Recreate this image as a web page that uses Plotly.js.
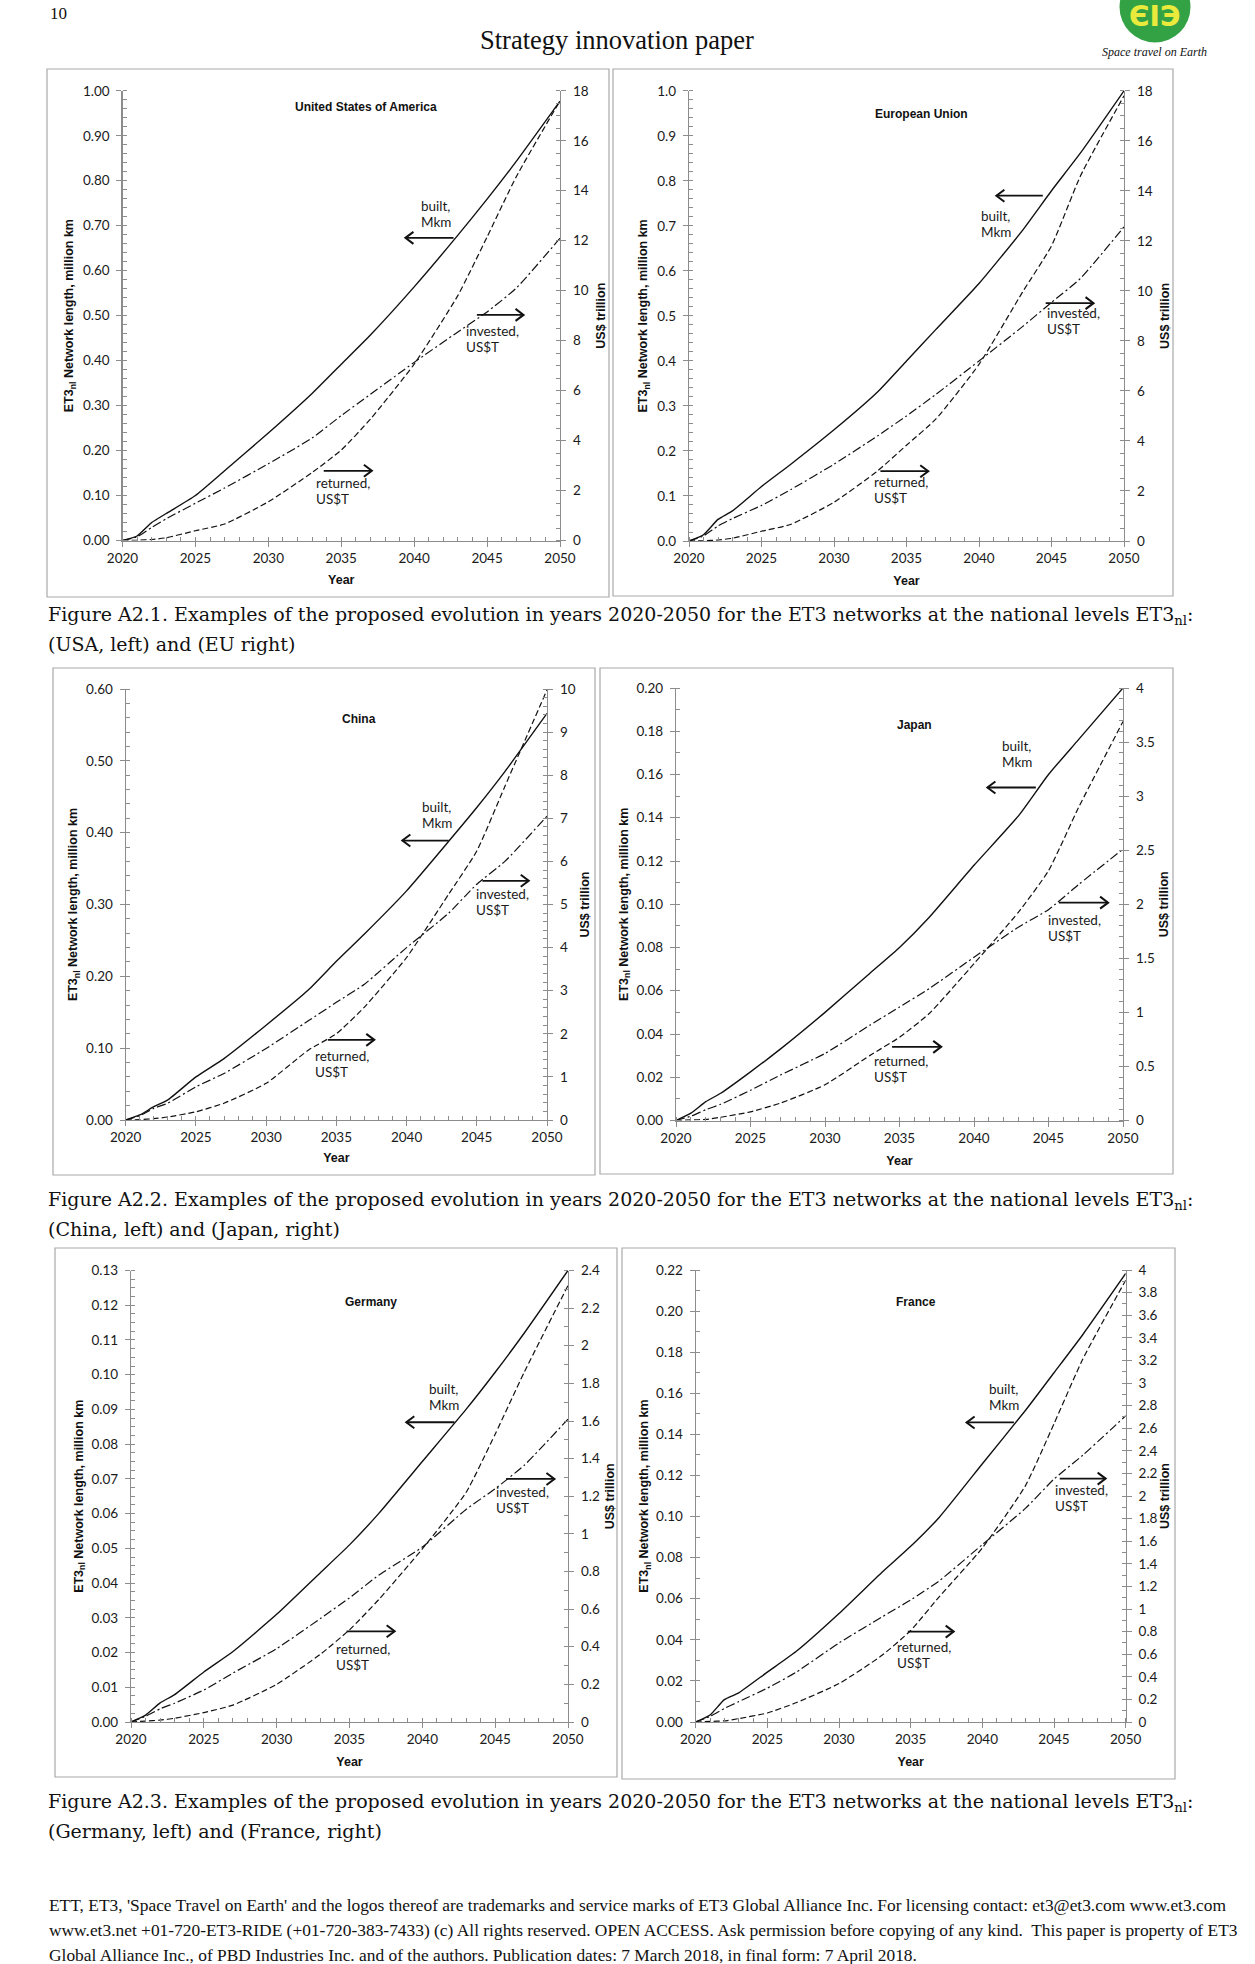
<!DOCTYPE html>
<html>
<head>
<meta charset="utf-8">
<script src="https://cdn.plot.ly/plotly-3.0.1.min.js"></script>
<style>
  html, body { margin: 0; padding: 0; background: #fff; }
  #page { width: 1255px; height: 1964px; }
</style>
</head>
<body>
<div id="page"></div>
<script>
// ---------------- DATA ----------------
const YEARS = [2020, 2021, 2022, 2023, 2025, 2027, 2030, 2033, 2035, 2037, 2040, 2043, 2045, 2047, 2050];
const X_TICKS = [2020, 2025, 2030, 2035, 2040, 2045, 2050];

const USA_BUILT    = [0, 0.01, 0.04, 0.06, 0.10, 0.155, 0.239, 0.327, 0.392, 0.457, 0.564, 0.679, 0.759, 0.843, 0.977];
const USA_INVESTED = [0, 0.15, 0.52, 0.87, 1.49, 2.1, 3.07, 4.1, 5.0, 5.85, 7.13, 8.35, 9.15, 10.1, 12.1];
const USA_RETURNED = [0, 0.01, 0.04, 0.11, 0.39, 0.66, 1.55, 2.72, 3.62, 4.86, 7.06, 9.81, 12.15, 14.56, 17.6];

const EU_BUILT    = [0, 0.014, 0.048, 0.067, 0.121, 0.17, 0.247, 0.331, 0.40, 0.469, 0.572, 0.69, 0.778, 0.862, 1.0];
const EU_INVESTED = [0, 0.2, 0.6, 0.9, 1.42, 2.05, 3.07, 4.2, 5.0, 5.85, 7.2, 8.57, 9.54, 10.5, 12.56];
const EU_RETURNED = [0, 0.01, 0.04, 0.11, 0.39, 0.66, 1.55, 2.8, 3.83, 4.86, 7.06, 9.95, 11.8, 14.6, 17.8];

const CHINA_BUILT    = [0, 0.007, 0.0185, 0.028, 0.06, 0.0855, 0.132, 0.181, 0.221, 0.259, 0.319, 0.388, 0.435, 0.485, 0.566];
const CHINA_INVESTED = [0, 0.1, 0.27, 0.39, 0.77, 1.08, 1.66, 2.3, 2.73, 3.15, 4.0, 4.8, 5.47, 6.0, 7.05];
const CHINA_RETURNED = [0, 0.01, 0.03, 0.07, 0.19, 0.39, 0.85, 1.62, 2.0, 2.62, 3.77, 5.24, 6.24, 7.74, 9.98];

const JAPAN_BUILT    = [0, 0.0034, 0.0087, 0.0126, 0.0225, 0.033, 0.050, 0.068, 0.080, 0.094, 0.118, 0.141, 0.16, 0.176, 0.20];
const JAPAN_INVESTED = [0, 0.04, 0.1, 0.15, 0.28, 0.42, 0.62, 0.88, 1.05, 1.22, 1.51, 1.79, 1.95, 2.18, 2.51];
const JAPAN_RETURNED = [0, 0.005, 0.01, 0.03, 0.08, 0.16, 0.33, 0.6, 0.77, 0.99, 1.45, 1.93, 2.31, 2.89, 3.69];

const GERMANY_BUILT    = [0, 0.002, 0.0055, 0.0079, 0.0144, 0.0203, 0.031, 0.043, 0.051, 0.0600, 0.075, 0.0900, 0.1007, 0.112, 0.13];
const GERMANY_INVESTED = [0, 0.03, 0.07, 0.1, 0.17, 0.26, 0.39, 0.55, 0.66, 0.78, 0.93, 1.13, 1.24, 1.365, 1.61];
const GERMANY_RETURNED = [0, 0.005, 0.01, 0.02, 0.05, 0.09, 0.2, 0.36, 0.49, 0.65, 0.92, 1.22, 1.53, 1.86, 2.32];

const FRANCE_BUILT    = [0, 0.0034, 0.0109, 0.0142, 0.0243, 0.0343, 0.0528, 0.0729, 0.0855, 0.0997, 0.1257, 0.1516, 0.170, 0.1885, 0.2183];
const FRANCE_INVESTED = [0, 0.05, 0.12, 0.18, 0.30, 0.44, 0.70, 0.93, 1.08, 1.25, 1.57, 1.89, 2.15, 2.36, 2.71];
const FRANCE_RETURNED = [0, 0.005, 0.01, 0.03, 0.08, 0.17, 0.34, 0.59, 0.81, 1.11, 1.54, 2.09, 2.64, 3.21, 3.91];

const CHART_TITLES = ['United States of America', 'European Union', 'China', 'Japan', 'Germany', 'France'];
const LEFT_TITLE = 'ET3<sub>nl</sub> Network length, million km';
const RIGHT_TITLE = 'US$ trillion';
const X_TITLE = 'Year';
const LBL_BUILT = ['built,', 'Mkm'];
const LBL_INVESTED = ['invested,', 'US$T'];
const LBL_RETURNED = ['returned,', 'US$T'];

const PAGE_NUMBER = '10';
const HEADER = 'Strategy innovation paper';
const LOGO_TEXT = 'ЄIЭ';
const LOGO_TAG = 'Space travel on Earth';
const CAPTIONS = [
  ['Figure A2.1. Examples of the proposed evolution in years 2020-2050 for the ET3 networks at the national levels ET3<sub>nl</sub>:', '(USA, left) and (EU right)'],
  ['Figure A2.2. Examples of the proposed evolution in years 2020-2050 for the ET3 networks at the national levels ET3<sub>nl</sub>:', '(China, left) and (Japan, right)'],
  ['Figure A2.3. Examples of the proposed evolution in years 2020-2050 for the ET3 networks at the national levels ET3<sub>nl</sub>:', '(Germany, left) and (France, right)']
];
const FOOTER = [
  "ETT, ET3, 'Space Travel on Earth' and the logos thereof are trademarks and service marks of ET3 Global Alliance Inc. For licensing contact: et3@et3.com www.et3.com",
  "www.et3.net +01-720-ET3-RIDE (+01-720-383-7433) (c) All rights reserved. OPEN ACCESS. Ask permission before copying of any kind.  This paper is property of ET3",
  "Global Alliance Inc., of PBD Industries Inc. and of the authors. Publication dates: 7 March 2018, in final form: 7 April 2018."
];

// ---------------- LAYOUT CONFIG (positions in page pixels) ----------------
const W = 1255, H = 1964;
const px = v => v / W;
const py = v => 1 - v / H;

const SERIES = [
  [USA_BUILT, USA_INVESTED, USA_RETURNED],
  [EU_BUILT, EU_INVESTED, EU_RETURNED],
  [CHINA_BUILT, CHINA_INVESTED, CHINA_RETURNED],
  [JAPAN_BUILT, JAPAN_INVESTED, JAPAN_RETURNED],
  [GERMANY_BUILT, GERMANY_INVESTED, GERMANY_RETURNED],
  [FRANCE_BUILT, FRANCE_INVESTED, FRANCE_RETURNED]
];

// standoffs: [x title, left title, right title]
const CFG = [
  { box:[47,69,609,597], plot:[122.5,90.8,560,540.5], title:[366,107], so:[10,6,8],
    lmax:1, ld:0.1, lfmt:'.2f', lminor:0.02, rmax:18, rd:2, rminor:0.5,
    arrows:{b:[2042.7,2039.4,0.673], i:[2044.3,2047.5,9.03], r:[2033.8,2037.1,2.79]},
    labels:{b:[2040.4,0.727], i:[2043.5,8.05], r:[2033.2,2.0]} },
  { box:[613,69,1173,596], plot:[689,90.8,1124,541], title:[922,114], so:[10,6,8],
    lmax:1, ld:0.1, lfmt:'.1f', lminor:0.02, rmax:18, rd:2, rminor:0.5,
    arrows:{b:[2044.4,2041.2,0.767], i:[2044.6,2047.9,9.51], r:[2033.2,2036.5,2.79]},
    labels:{b:[2040.1,0.704], i:[2044.6,8.78], r:[2032.7,2.04]} },
  { box:[53,668,595,1175], plot:[125.7,689,547,1120], title:[359,719], so:[8,5,5],
    lmax:0.6, ld:0.1, lfmt:'.2f', lminor:0.02, rmax:10, rd:1, rminor:0.2,
    arrows:{b:[2043.0,2039.7,0.389], i:[2045.4,2048.7,5.55], r:[2034.4,2037.7,1.86]},
    labels:{b:[2041.05,0.425], i:[2044.9,5.06], r:[2033.4,1.31]} },
  { box:[600,668,1173,1174], plot:[676,688,1123,1120.5], title:[914,725], so:[11,5,5],
    lmax:0.2, ld:0.02, lfmt:'.2f', lminor:0.01, rmax:4, rd:0.5, rminor:0.1,
    arrows:{b:[2044.15,2040.9,0.154], i:[2045.7,2049.0,2.015], r:[2034.5,2037.8,0.681]},
    labels:{b:[2041.8,0.1695], i:[2044.9,1.785], r:[2033.2,0.48]} },
  { box:[55,1248,617,1777], plot:[131,1270.5,568,1722], title:[371,1302], so:[10,5,6],
    lmax:0.13, ld:0.01, lfmt:'.2f', lminor:0.0025, rmax:2.4, rd:0.2, rminor:0.1,
    arrows:{b:[2042.2,2038.9,0.0863], i:[2045.75,2049.07,1.292], r:[2034.8,2038.1,0.482]},
    labels:{b:[2040.4,0.0936], i:[2045.0,1.18], r:[2034.0,0.348]} },
  { box:[622,1248,1175,1779], plot:[695.7,1270,1125.7,1722], title:[916,1302], so:[10,4,3],
    lmax:0.22, ld:0.02, lfmt:'.2f', lminor:0.01, rmax:4, rd:0.2, rminor:0.1,
    arrows:{b:[2042.2,2038.9,0.1458], i:[2045.4,2048.6,2.154], r:[2034.8,2038.0,0.80]},
    labels:{b:[2040.4,0.1583], i:[2045.0,1.98], r:[2034.0,0.594]} }
];

const AXIS_GRAY = '#8c8c8c';
const INK = '#111111';
const TICK_FONT = { family: 'Lato, "Open Sans", sans-serif', size: 13.5, color: '#1a1a1a' };
const BOLD_FONT = { family: '"Liberation Sans", Arial, sans-serif', size: 12.5, color: '#111', weight: 700 };
const LABEL_FONT = { family: 'Lato, "Open Sans", sans-serif', size: 13.5, color: '#1a1a1a' };
const SERIF = '"Liberation Serif", "DejaVu Serif", serif';
const CAPTION_SERIF = '"DejaVu Serif", "Liberation Serif", serif';

const traces = [];
const annotations = [];
const shapes = [];
const layout = {
  width: W, height: H,
  margin: { l: 0, r: 0, t: 0, b: 0 },
  paper_bgcolor: '#ffffff',
  plot_bgcolor: 'rgba(0,0,0,0)',
  showlegend: false,
  font: TICK_FONT
};

function boldText(t) { return '<b>' + t + '</b>'; }

CFG.forEach((c, k) => {
  const xId = k === 0 ? '' : String(k + 1);
  const yL = k === 0 ? '' : String(2 * k + 1);
  const yR = String(2 * k + 2);
  const xRef = 'x' + xId, yLRef = 'y' + yL, yRRef = 'y' + yR;
  const [bx0, by0, bx1, by1] = c.box;
  const [pl, pt, pr, pb] = c.plot;

  // frame box
  shapes.push({ type: 'rect', xref: 'paper', yref: 'paper', x0: px(bx0), x1: px(bx1), y0: py(by1), y1: py(by0),
                line: { color: '#a9a9a9', width: 1.2 }, fillcolor: 'rgba(0,0,0,0)', layer: 'below' });

  layout['xaxis' + xId] = {
    domain: [px(pl), px(pr)], anchor: yLRef, range: [2020, 2050],
    title: { text: boldText(X_TITLE), font: BOLD_FONT, standoff: c.so[0] },
    tickvals: X_TICKS, ticks: 'outside', ticklen: 5, tickcolor: AXIS_GRAY, tickwidth: 1,
    showline: true, linecolor: AXIS_GRAY, linewidth: 1.2, showgrid: false, zeroline: false,
    minor: { dtick: 1, tick0: 2020, ticks: 'inside', ticklen: 4, tickcolor: AXIS_GRAY, showgrid: false },
    tickfont: TICK_FONT, fixedrange: true, automargin: false
  };
  layout['yaxis' + yL] = {
    domain: [py(pb), py(pt)], anchor: xRef, range: [0, c.lmax],
    title: { text: boldText(LEFT_TITLE), font: BOLD_FONT, standoff: c.so[1] },
    dtick: c.ld, tick0: 0, tickformat: c.lfmt, ticks: 'outside', ticklen: 5, tickcolor: AXIS_GRAY,
    showline: true, linecolor: AXIS_GRAY, linewidth: 1.2, showgrid: false, zeroline: false,
    minor: { dtick: c.lminor, tick0: 0, ticks: 'inside', ticklen: 4, tickcolor: AXIS_GRAY, showgrid: false },
    ticklabelstandoff: 4, tickfont: TICK_FONT, fixedrange: true, automargin: false
  };
  layout['yaxis' + yR] = {
    overlaying: yLRef, side: 'right', anchor: xRef, range: [0, c.rmax],
    title: { text: boldText(RIGHT_TITLE), font: BOLD_FONT, standoff: c.so[2] },
    dtick: c.rd, tick0: 0, ticks: 'outside', ticklen: 5, tickcolor: AXIS_GRAY,
    showline: true, linecolor: AXIS_GRAY, linewidth: 1.2, showgrid: false, zeroline: false,
    minor: { dtick: c.rminor, tick0: 0, ticks: 'inside', ticklen: 4, tickcolor: AXIS_GRAY, showgrid: false },
    ticklabelstandoff: 4, tickfont: TICK_FONT, fixedrange: true, automargin: false
  };

  const [built, invested, returned] = SERIES[k];
  traces.push({ x: YEARS, y: built, xaxis: xRef, yaxis: yLRef, mode: 'lines', name: 'built',
                line: { color: INK, width: 1.4, shape: 'spline', smoothing: 0.5 }, hoverinfo: 'skip' });
  traces.push({ x: YEARS, y: invested, xaxis: xRef, yaxis: yRRef, mode: 'lines', name: 'invested',
                line: { color: INK, width: 1.2, dash: '9px,3px,2px,3px', shape: 'spline', smoothing: 0.5 }, hoverinfo: 'skip' });
  traces.push({ x: YEARS, y: returned, xaxis: xRef, yaxis: yRRef, mode: 'lines', name: 'returned',
                line: { color: INK, width: 1.2, dash: '6px,3px', shape: 'spline', smoothing: 0.5 }, hoverinfo: 'skip' });

  // chart title
  annotations.push({ xref: 'paper', yref: 'paper', x: px(c.title[0]), y: py(c.title[1]),
    text: boldText(CHART_TITLES[k]), showarrow: false, xanchor: 'center', yanchor: 'middle',
    font: Object.assign({}, BOLD_FONT, { size: 12 }) });

  // arrows (shaft in data coords + chevron head in pixels anchored at the tip)
  const arrowSpec = [['b', yLRef], ['i', yRRef], ['r', yRRef]];
  arrowSpec.forEach(([key, yr]) => {
    const a = c.arrows[key];
    const dir = a[1] > a[0] ? 1 : -1;
    shapes.push({ type: 'line', xref: xRef, yref: yr, x0: a[0], x1: a[1], y0: a[2], y1: a[2],
      line: { color: INK, width: 1.8 }, layer: 'above' });
    shapes.push({ type: 'path', xref: xRef, yref: yr, xsizemode: 'pixel', ysizemode: 'pixel',
      xanchor: a[1], yanchor: a[2],
      path: 'M ' + (-8 * dir) + ' 6 L 0 0 L ' + (-8 * dir) + ' -6',
      line: { color: INK, width: 2 }, fillcolor: 'rgba(0,0,0,0)', layer: 'above' });
    const l = c.labels[key];
    const lines = key === 'b' ? LBL_BUILT : (key === 'i' ? LBL_INVESTED : LBL_RETURNED);
    lines.forEach((t, j) => {
      annotations.push({ xref: xRef, yref: yr, x: l[0], y: l[1], text: t, showarrow: false,
        xanchor: 'left', yanchor: 'middle', align: 'left', font: LABEL_FONT, borderpad: 0,
        yshift: j === 0 ? 8 : -8 });
    });
  });
});

// page header
annotations.push({ xref: 'paper', yref: 'paper', x: px(48), y: py(14), text: PAGE_NUMBER, showarrow: false,
  xanchor: 'left', yanchor: 'middle', font: { family: SERIF, size: 17, color: '#111' } });
annotations.push({ xref: 'paper', yref: 'paper', x: px(617), y: py(40), text: HEADER, showarrow: false,
  xanchor: 'center', yanchor: 'middle', font: { family: SERIF, size: 26.5, color: '#111' } });

// logo
shapes.push({ type: 'circle', xref: 'paper', yref: 'paper', x0: px(1155 - 35.5), x1: px(1155 + 35.5),
  y0: py(7 + 35.5), y1: py(7 - 35.5), line: { width: 0 }, fillcolor: '#33a245', layer: 'above' });
annotations.push({ xref: 'paper', yref: 'paper', x: px(1155), y: py(16), text: '<b>' + LOGO_TEXT + '</b>',
  showarrow: false, xanchor: 'center', yanchor: 'middle',
  font: { family: '"DejaVu Sans", sans-serif', size: 28, color: '#e9ea3c' } });
annotations.push({ xref: 'paper', yref: 'paper', x: px(1154), y: py(52), text: '<i>' + LOGO_TAG + '</i>',
  showarrow: false, xanchor: 'center', yanchor: 'middle', font: { family: SERIF, size: 12, color: '#111' } });

// captions
const CAP_Y = [[615, 644], [1200, 1229], [1802, 1831]];
CAPTIONS.forEach((cap, i) => {
  cap.forEach((line, j) => {
    annotations.push({ xref: 'paper', yref: 'paper', x: px(46), y: py(CAP_Y[i][j]), text: line,
      showarrow: false, xanchor: 'left', yanchor: 'middle', align: 'left',
      font: { family: CAPTION_SERIF, size: 19, color: '#111' } });
  });
});

// footer
const FOOT_Y = [1905, 1930, 1955];
FOOTER.forEach((line, j) => {
  annotations.push({ xref: 'paper', yref: 'paper', x: px(47), y: py(FOOT_Y[j]), text: line,
    showarrow: false, xanchor: 'left', yanchor: 'middle', align: 'left',
    font: { family: SERIF, size: 17.4, color: '#111' } });
});

layout.annotations = annotations;
layout.shapes = shapes;

Plotly.newPlot('page', traces, layout, { staticPlot: true, displayModeBar: false });
</script>
</body>
</html>
